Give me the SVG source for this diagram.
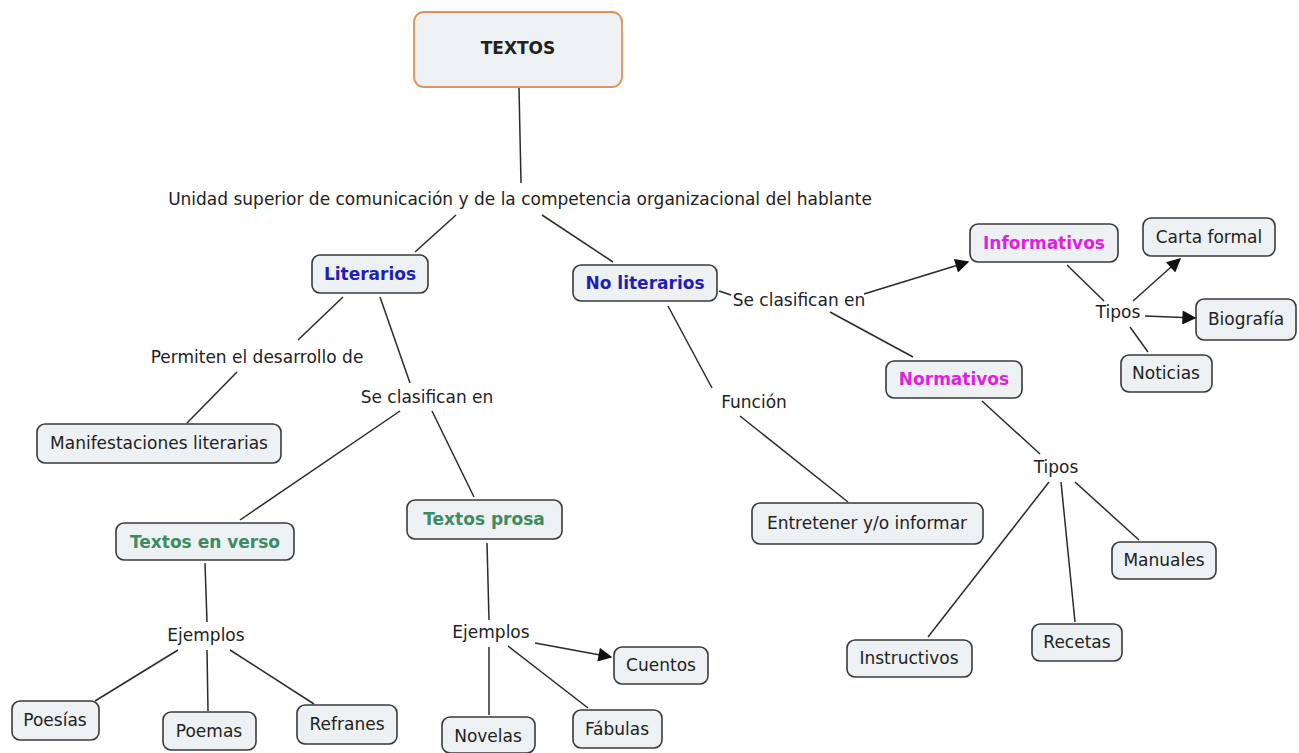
<svg xmlns="http://www.w3.org/2000/svg" width="1299" height="753" viewBox="0 0 1299 753">
<defs>
<style>
.box{fill:#edf1f3;stroke:#3a3a3a;stroke-width:1.6}
.root{fill:#edf1f3;stroke:#e0925a;stroke-width:1.8}
text{font-family:"DejaVu Sans",Verdana,sans-serif;font-size:17px;fill:#222;text-anchor:middle}
.b{font-weight:bold}
.blue{fill:#1f1fb5}
.mag{fill:#e01ee0}
.grn{fill:#3d8b62}
.c line{stroke:#2a2a2a;stroke-width:1.5}
.c .a{marker-end:url(#ah)}
</style>
<marker id="ah" viewBox="0 0 10 10" refX="9" refY="5" markerWidth="16" markerHeight="14" markerUnits="userSpaceOnUse" orient="auto"><path d="M0,0 L10,5 L0,10 z" fill="#111"/></marker>
</defs>
<rect width="1299" height="753" fill="#fff"/>
<g class="c">
<line x1="519" y1="88" x2="521" y2="183"/>
<line x1="456" y1="215" x2="415" y2="252"/>
<line x1="542" y1="215" x2="613" y2="262"/>
<line x1="719" y1="291" x2="731" y2="295"/>
<line class="a" x1="864" y1="294" x2="968" y2="262"/>
<line x1="830" y1="312" x2="913" y2="357"/>
<line x1="1067" y1="265" x2="1104" y2="301"/>
<line class="a" x1="1133" y1="301" x2="1180" y2="259"/>
<line class="a" x1="1145" y1="316" x2="1195" y2="318"/>
<line x1="1130" y1="327" x2="1148" y2="352"/>
<line x1="982" y1="401" x2="1040" y2="454"/>
<line x1="1049" y1="482" x2="928" y2="637"/>
<line x1="1061" y1="482" x2="1075" y2="622"/>
<line x1="1075" y1="482" x2="1139" y2="540"/>
<line x1="668" y1="306" x2="712" y2="388"/>
<line x1="740" y1="416" x2="848" y2="502"/>
<line x1="343" y1="297" x2="298" y2="340"/>
<line x1="237" y1="372" x2="187" y2="423"/>
<line x1="380" y1="297" x2="410" y2="383"/>
<line x1="400" y1="411" x2="240" y2="520"/>
<line x1="432" y1="411" x2="474" y2="497"/>
<line x1="205" y1="563" x2="207" y2="622"/>
<line x1="178" y1="650" x2="95" y2="701"/>
<line x1="207" y1="650" x2="208" y2="711"/>
<line x1="230" y1="650" x2="314" y2="704"/>
<line x1="487" y1="543" x2="489" y2="620"/>
<line x1="489" y1="647" x2="489" y2="715"/>
<line x1="508" y1="646" x2="588" y2="708"/>
<line class="a" x1="535" y1="643" x2="611" y2="657"/>
</g>
<g id="lbl-unidad"><text x="520" y="205">Unidad superior de comunicación y de la competencia organizacional del hablante</text></g>
<g id="lbl-clasifican1"><text x="799" y="306">Se clasifican en</text></g>
<g id="lbl-tipos1"><text x="1118" y="318">Tipos</text></g>
<g id="lbl-tipos2"><text x="1056" y="473">Tipos</text></g>
<g id="lbl-funcion"><text x="754" y="408">Función</text></g>
<g id="lbl-permiten"><text x="257" y="363">Permiten el desarrollo de</text></g>
<g id="lbl-clasifican2"><text x="427" y="403">Se clasifican en</text></g>
<g id="lbl-ejemplos1"><text x="206" y="641">Ejemplos</text></g>
<g id="lbl-ejemplos2"><text x="491" y="638">Ejemplos</text></g>
<g id="textos"><rect class="root" x="414" y="12" width="208" height="75" rx="10"/><text class="b" x="518" y="54">TEXTOS</text></g>
<g id="literarios"><rect class="box" x="312" y="255" width="116" height="38" rx="8"/><text class="b blue" x="370" y="280">Literarios</text></g>
<g id="noliterarios"><rect class="box" x="573" y="265" width="144" height="36" rx="8"/><text class="b blue" x="645" y="289">No literarios</text></g>
<g id="informativos"><rect class="box" x="970" y="224" width="148" height="38" rx="8"/><text class="b mag" x="1044" y="249">Informativos</text></g>
<g id="normativos"><rect class="box" x="886" y="361" width="136" height="37" rx="8"/><text class="b mag" x="954" y="385">Normativos</text></g>
<g id="carta"><rect class="box" x="1143" y="218" width="132" height="38" rx="8"/><text x="1209" y="243">Carta formal</text></g>
<g id="biografia"><rect class="box" x="1196" y="299" width="100" height="41" rx="8"/><text x="1246" y="325">Biografía</text></g>
<g id="noticias"><rect class="box" x="1121" y="355" width="91" height="37" rx="8"/><text x="1166" y="379">Noticias</text></g>
<g id="manuales"><rect class="box" x="1112" y="542" width="104" height="37" rx="8"/><text x="1164" y="566">Manuales</text></g>
<g id="recetas"><rect class="box" x="1032" y="624" width="90" height="37" rx="8"/><text x="1077" y="648">Recetas</text></g>
<g id="instructivos"><rect class="box" x="847" y="640" width="125" height="37" rx="8"/><text x="909" y="664">Instructivos</text></g>
<g id="entretener"><rect class="box" x="752" y="503" width="231" height="41" rx="8"/><text x="867" y="529">Entretener y/o informar</text></g>
<g id="manifestaciones"><rect class="box" x="37" y="424" width="244" height="39" rx="8"/><text x="159" y="449">Manifestaciones literarias</text></g>
<g id="verso"><rect class="box" x="116" y="523" width="178" height="37" rx="8"/><text class="b grn" x="205" y="548">Textos en verso</text></g>
<g id="prosa"><rect class="box" x="407" y="500" width="155" height="39" rx="8"/><text class="b grn" x="484" y="525">Textos prosa</text></g>
<g id="poesias"><rect class="box" x="12" y="701" width="87" height="39" rx="8"/><text x="55" y="726">Poesías</text></g>
<g id="poemas"><rect class="box" x="163" y="712" width="93" height="38" rx="8"/><text x="209" y="737">Poemas</text></g>
<g id="refranes"><rect class="box" x="297" y="705" width="100" height="39" rx="8"/><text x="347" y="730">Refranes</text></g>
<g id="novelas"><rect class="box" x="442" y="717" width="93" height="36" rx="8"/><text x="488" y="742">Novelas</text></g>
<g id="fabulas"><rect class="box" x="573" y="710" width="89" height="38" rx="8"/><text x="617" y="735">Fábulas</text></g>
<g id="cuentos"><rect class="box" x="614" y="647" width="94" height="37" rx="8"/><text x="661" y="671">Cuentos</text></g>
</svg>
